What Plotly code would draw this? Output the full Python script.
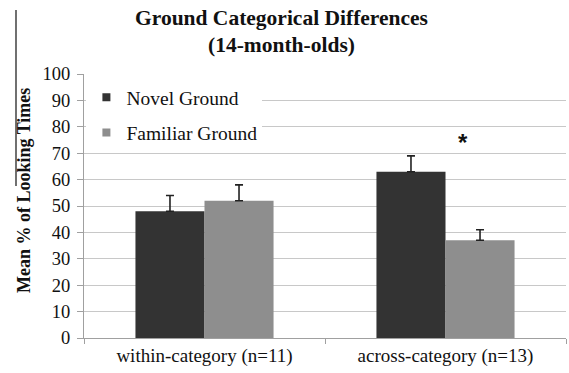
import plotly.graph_objects as go

categories = ["within-category (n=11)", "across-category (n=13)"]
series_names = ["Novel Ground", "Familiar Ground"]
novel_means = [48, 63]
novel_err = [6, 6]
familiar_means = [52, 37]
familiar_err = [6, 4]
y_ticks = [0, 10, 20, 30, 40, 50, 60, 70, 80, 90, 100]

SERIF = "'Times New Roman', 'Liberation Serif', Times, serif"
COLORS = ["#333333", "#8e8e8e"]

fig = go.Figure()
for name, means, errs, color in zip(series_names, [novel_means, familiar_means],
                                    [novel_err, familiar_err], COLORS):
    fig.add_trace(go.Bar(
        name=name, x=categories, y=means, showlegend=False,
        marker=dict(color=color, line=dict(width=0)),
        error_y=dict(type="data", symmetric=False, array=errs,
                     arrayminus=[0] * len(errs), visible=True,
                     color="#222222", thickness=1.6, width=4),
    ))
# small square legend keys
for i, (name, color) in enumerate(zip(series_names, COLORS)):
    fig.add_trace(go.Scatter(
        name=name, x=[None], y=[None], mode="markers",
        marker=dict(symbol="square", size=8, color=color),
        legendgroup=f"g{i}",
    ))

fig.update_layout(
    width=569, height=373,
    margin=dict(l=84, r=3, t=74, b=35),
    paper_bgcolor="white", plot_bgcolor="white",
    barmode="group", bargap=0.427, bargroupgap=0,
    font=dict(family=SERIF, color="#111111", size=18),
    showlegend=True,
    legend=dict(
        x=0.005, y=0.985, xanchor="left", yanchor="top",
        bgcolor="white", font=dict(family=SERIF, size=19.5, color="#111111"),
        tracegroupgap=7, itemwidth=30,
    ),
    xaxis=dict(
        showgrid=False, showline=True, linecolor="#a0a0a0", linewidth=1,
        ticks="outside", tickson="boundaries", ticklen=5, tickcolor="#a0a0a0",
        tickfont=dict(family=SERIF, size=19, color="#111111"),
    ),
    yaxis=dict(
        range=[0, 100], tickvals=y_ticks, showgrid=True,
        gridcolor="#c8c8c8", gridwidth=1,
        showline=True, linecolor="#a0a0a0", linewidth=1,
        ticks="outside", ticklen=6, tickcolor="#a0a0a0",
        ticklabelstandoff=3,
        tickfont=dict(family=SERIF, size=18.5, color="#111111"),
        zeroline=False,
    ),
    annotations=[
        dict(text="<b>Ground Categorical Differences</b>", xref="paper", yref="paper",
             x=0.41, y=(338 - 18) / 264, xanchor="center", yanchor="middle",
             showarrow=False, font=dict(family=SERIF, size=21.5, color="#111111")),
        dict(text="<b>(14-month-olds)</b>", xref="paper", yref="paper",
             x=0.41, y=(338 - 45) / 264, xanchor="center", yanchor="middle",
             showarrow=False, font=dict(family=SERIF, size=21.5, color="#111111")),
        dict(text="<b>Mean % of Looking Times</b>", xref="paper", yref="paper",
             x=-(84 - 24) / 482, y=(338 - 191) / 264, xanchor="center", yanchor="middle",
             textangle=-90, showarrow=False,
             font=dict(family=SERIF, size=18, color="#111111")),
        dict(text="<b>*</b>", xref="x", yref="y", x=categories[1], y=74,
             xshift=17, xanchor="center", yanchor="middle", showarrow=False,
             font=dict(family="'Liberation Sans', Arial, sans-serif", size=24, color="#111111")),
    ],
    shapes=[
        dict(type="line", xref="paper", yref="paper",
             x0=-(84 - 16) / 482, x1=-(84 - 16) / 482,
             y0=(338 - 10) / 264, y1=(338 - 186) / 264,
             line=dict(color="#111111", width=1.2)),
    ],
)

fig.write_html("out.html")
